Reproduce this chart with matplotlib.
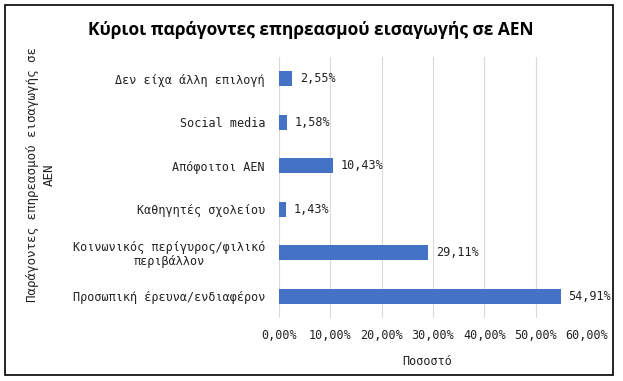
import matplotlib.pyplot as plt
from matplotlib.patches import Rectangle

# categories listed bottom to top
categories = ['Προσωπική έρευνα/ενδιαφέρον',
              'Κοινωνικός περίγυρος/φιλικό\nπεριβάλλον',
              'Καθηγητές σχολείου',
              'Απόφοιτοι ΑΕΝ',
              'Social media',
              'Δεν είχα άλλη επιλογή']
values = [54.91, 29.11, 1.43, 10.43, 1.58, 2.55]
xticks = [0, 10, 20, 30, 40, 50, 60]

mono = 'DejaVu Sans Mono'
bar_color = '#4472C4'

fig = plt.figure(figsize=(6.23, 3.81), dpi=100)
W, H = 623, 381
ax = fig.add_axes([279 / W, 1 - 318 / H, (587 - 279) / W, (318 - 57) / H])

pos = range(len(categories))
ax.barh(pos, values, height=0.34, color=bar_color, zorder=3)
for p, v in zip(pos, values):
    ax.text(v + 1.5, p, f'{v:.2f}%'.replace('.', ','), va='center', ha='left',
            fontsize=8.5, family=mono, color='#222222')

ax.set_xlim(0, 60)
ax.set_ylim(-0.5, len(categories) - 0.5)
ax.set_xticks(xticks)
ax.set_xticklabels([f'{t:.2f}%'.replace('.', ',') for t in xticks], family=mono, fontsize=8.5)
ax.set_yticks(list(pos))
ax.set_yticklabels(categories, family=mono, fontsize=8.5, linespacing=1.1,
                   multialignment='center')
ax.tick_params(length=0, pad=10, colors='#222222')
ax.tick_params(axis='x', pad=8)
ax.grid(axis='x', color='#d9d9d9', linewidth=0.8, zorder=0)
for s in ax.spines.values():
    s.set_visible(False)

ax.set_xlabel('Ποσοστό', family=mono, fontsize=8.5, color='#222222')
ax.xaxis.set_label_coords((427 - 279) / 308, -(355 - 318) / 261)
fig.text(41 / W, 1 - 175 / H, 'Παράγοντες επηρεασμού εισαγωγής σε\nΑΕΝ',
         rotation=90, ha='center', va='center', family=mono, fontsize=9,
         linespacing=1.3, color='#222222')

fig.text(311 / W, 1 - 30 / H, 'Κύριοι παράγοντες επηρεασμού εισαγωγής σε ΑΕΝ',
         ha='center', va='center', family='Open Sans', fontsize=12.5,
         fontweight='bold', color='black')

fig.patches.append(Rectangle((5 / W, 1 - 375 / H), 608 / W, 370 / H,
                             transform=fig.transFigure, fill=False,
                             edgecolor='black', linewidth=1.2))

plt.savefig('out.png', dpi=100)
